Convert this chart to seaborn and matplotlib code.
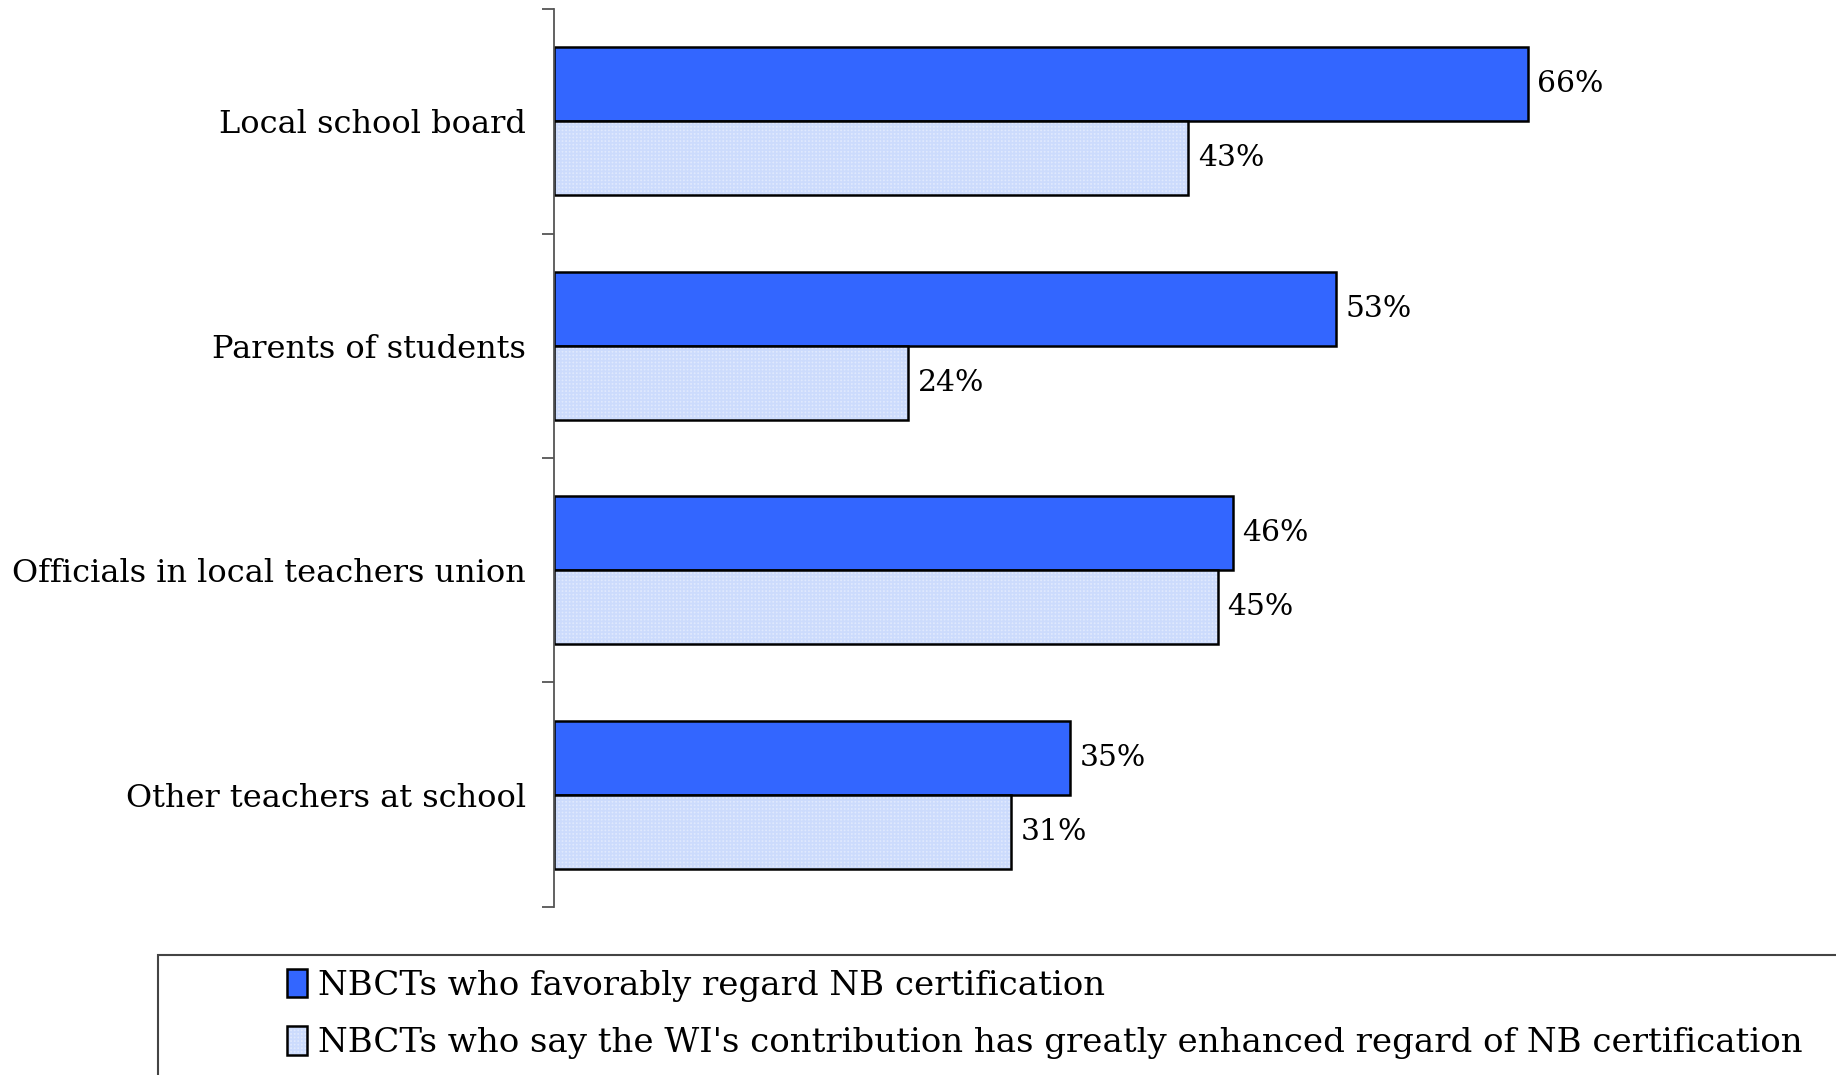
import matplotlib
matplotlib.use("Agg")
import matplotlib.pyplot as plt
from matplotlib.patches import Rectangle
import seaborn as sns
import pandas as pd

categories = ["Local school board", "Parents of students",
              "Officials in local teachers union", "Other teachers at school"]
series_names = ["NBCTs who favorably regard NB certification",
                "NBCTs who say the WI's contribution has greatly enhanced regard of NB certification"]
favorable = [66, 53, 46, 35]
enhanced = [43, 24, 45, 31]

sns.set_theme(style="white")
plt.rcParams["font.family"] = ["DejaVu Serif"]
plt.rcParams["hatch.linewidth"] = 0.5
plt.rcParams["text.color"] = "black"
plt.rcParams["ytick.labelcolor"] = "black"

df = pd.DataFrame({
    "category": categories * 2,
    "value": favorable + enhanced,
    "series": [series_names[0]] * 4 + [series_names[1]] * 4,
})

fig = plt.figure(figsize=(18.36, 10.75), dpi=100)
ax = fig.add_axes([0.3017, 0.1563, 0.6983, 0.8353])

blue = "#3366FF"
pale = "#FFFFFF"
sns.barplot(data=df, y="category", x="value", hue="series", orient="h",
            palette=[blue, pale], width=0.66, gap=0, edgecolor="black",
            linewidth=1.8, saturation=1, ax=ax, errorbar=None)

# fine light-blue grid on the second series
hatch_col = (0.80, 0.86, 0.99, 1.0)
hatch_pat = "+" * 12
for p in ax.containers[1]:
    p.set_hatch(hatch_pat)
    p._hatch_color = hatch_col

for cont in ax.containers:
    ax.bar_label(cont, fmt="%d%%", padding=7, fontsize=21.5, color="black")

ax.set_xlim(0, 86.9)
ax.set_ylim(3.5, -0.5)
ax.set_xlabel("")
ax.set_ylabel("")

# category boundaries as ticks, names at centres
ax.set_yticks([-0.5, 0.5, 1.5, 2.5, 3.5])
ax.set_yticklabels([])
ax.set_yticks(range(len(categories)), minor=True)
ax.set_yticklabels(categories, minor=True, fontsize=23, color="black")
ax.tick_params(axis="y", which="major", direction="out", length=9, width=1.3,
               color="#555555", left=True)
ax.tick_params(axis="y", which="minor", length=0, pad=20)
ax.xaxis.set_visible(False)
for s in ["top", "right", "bottom"]:
    ax.spines[s].set_visible(False)
ax.spines["left"].set_color("#555555")
ax.spines["left"].set_linewidth(1.3)

handles, labels = ax.get_legend_handles_labels()
ax.get_legend().remove()
for h in handles:
    h.set_edgecolor("black")
    h.set_linewidth(1.8)
handles[1].set_hatch(hatch_pat)
handles[1]._hatch_color = hatch_col

W, H = 1836, 1075
top = 1 - 955 / H
fig.patches.append(Rectangle((158 / W, -0.05), 1.2, top + 0.05,
                             transform=fig.transFigure, fill=False,
                             edgecolor="#444444", linewidth=1.5))
fig.legend(handles, labels, loc="upper left",
           bbox_to_anchor=(287 / W, top - 14 / H), frameon=False, fontsize=24.5,
           handlelength=0.6, handleheight=0.9, handletextpad=0.3,
           labelspacing=0.72, borderaxespad=0, borderpad=0)

fig.savefig("out.png", dpi=100)
